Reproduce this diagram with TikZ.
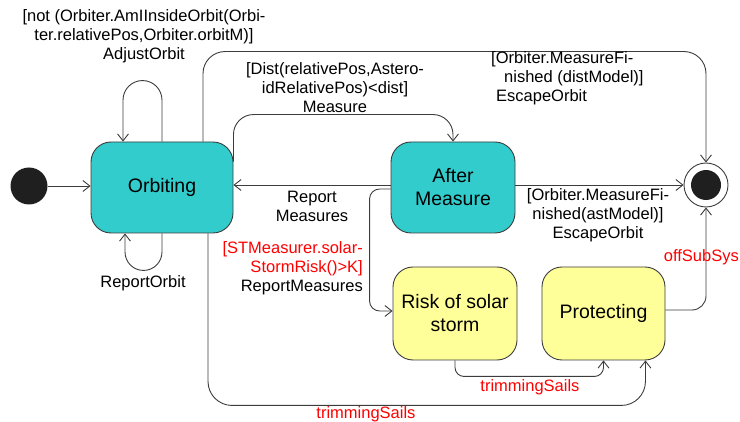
\documentclass[tikz,border=0pt]{standalone}
\usepackage{fontspec}
\setmainfont{Liberation Sans}
\usetikzlibrary{arrows.meta,calc}
\definecolor{lineGray}{RGB}{60,60,60}
\definecolor{stateTeal}{RGB}{51,204,204}
\definecolor{stateYellow}{RGB}{255,255,153}
\definecolor{guardRed}{RGB}{255,0,0}
\begin{document}
\begin{tikzpicture}[x=1pt,y=1pt,
  state/.style={draw=lineGray, line width=0.9pt, rounded corners=20pt, inner sep=0pt,
    align=center, font=\fontsize{19.5}{23}\selectfont},
  tealstate/.style={state, fill=stateTeal},
  yelstate/.style={state, fill=stateYellow},
  trans/.style={draw=lineGray, line width=0.9pt, -{Straight Barb[length=7pt,width=11pt]}},
  lbl/.style={inner sep=0pt, align=center, font=\fontsize{16.5}{19}\selectfont},
  redlbl/.style={lbl, text=guardRed}]

\useasboundingbox (0,0) rectangle (740,-422);

% states
\node[tealstate, minimum width=142pt, minimum height=91pt] (orb) at (162,-187.5) {Orbiting};
\node[tealstate, minimum width=124pt, minimum height=91pt] (am) at (453,-187.5) {After\\Measure};
\node[yelstate, minimum width=124pt, minimum height=93pt] (risk) at (455,-313.5) {Risk of solar\\storm};
\node[yelstate, minimum width=123pt, minimum height=93pt] (prot) at (603.5,-313.5) {Protecting};

% pseudo states
\node[circle, fill=black!88, minimum size=37pt, inner sep=0pt] (init) at (29,-186) {};
\node[circle, draw=lineGray, line width=0.9pt, fill=white, minimum size=44pt, inner sep=0pt] (fin) at (706,-185) {};
\node[circle, fill=black!88, minimum size=30pt, inner sep=0pt] (finDot) at (fin.center) {};

% transitions
\draw[trans] (init) -- (orb.west |- init);
\draw[trans, rounded corners=19.5pt] (orb.north) -- ++(0,61) -- ++(-39,0) -- ($(orb.north)+(-39,0)$);
\draw[trans, rounded corners=18.5pt] (orb.south) -- ++(0,-37) -- ++(-37,0) -- ($(orb.south)+(-37,0)$);
\draw[trans, rounded corners=22pt] ($(orb.north)+(41,0)$) -- ($(orb.north)+(41,90)$) -| (fin.north);
\draw[trans, rounded corners=20pt] ($(orb.north east)+(0,-20)$) -- ($(orb.north east)+(0,27)$) -| (am.north);
\coordinate (midY) at (0,-185);
\draw[trans] (am.west |- midY) -- (orb.east |- midY);
\draw[trans] (am.east |- fin.west) -- (fin.west);
\draw[trans, rounded corners=10pt] ($(am.west)+(0,-1.5)$) -| ($(risk.west)+(-23,40)$) |- ($(risk.west)+(0,2.5)$);
\draw[trans, rounded corners=9pt] (risk.south) -- ++(0,-16) -| (prot.south);
\draw[trans, rounded corners=24pt] ($(orb.south)+(46,0)$) -- ++(0,-172) -| ($(prot.south east)+(-20,0)$);
\draw[trans, rounded corners=14pt] ($(prot.east)+(0,3.5)$) -| (fin.south);

% labels
\node[lbl] (lAdjust) at (144,-36.5) {[not (Orbiter.AmIInsideOrbit(Orbi-\\ter.relativePos,Orbiter.orbitM)]\\AdjustOrbit};
\node[lbl] (lMeasure) at (335,-87.5) {[Dist(relativePos,Astero-\\idRelativePos)<dist]\\Measure};
\node[lbl, align=left, anchor=west] (lEscTop) at (491,-78.5) {[Orbiter.MeasureFi-\\\hspace*{13pt}nished (distModel)]\\\hspace*{5pt}EscapeOrbit};
\node[lbl] (lEscMid) at (598,-215.5) {[Orbiter.MeasureFi-\\nished(astModel)]\\EscapeOrbit};
\node[lbl] (lReport) at (312,-206.5) {Report\\Measures};
\node[lbl, align=right, anchor=east] (lStorm) at (363,-268) {\textcolor{guardRed}{[STMeasurer.solar-}\\\textcolor{guardRed}{StormRisk()>K]}\\ReportMeasures};
\node[lbl] (lRepOrbit) at (143,-283) {ReportOrbit};
\node[redlbl] (lTrimA) at (530,-387) {trimmingSails};
\node[redlbl] (lTrimB) at (366,-414) {trimmingSails};
\node[redlbl, anchor=east] (lOff) at (739,-257) {offSubSys};
\end{tikzpicture}
\end{document}
